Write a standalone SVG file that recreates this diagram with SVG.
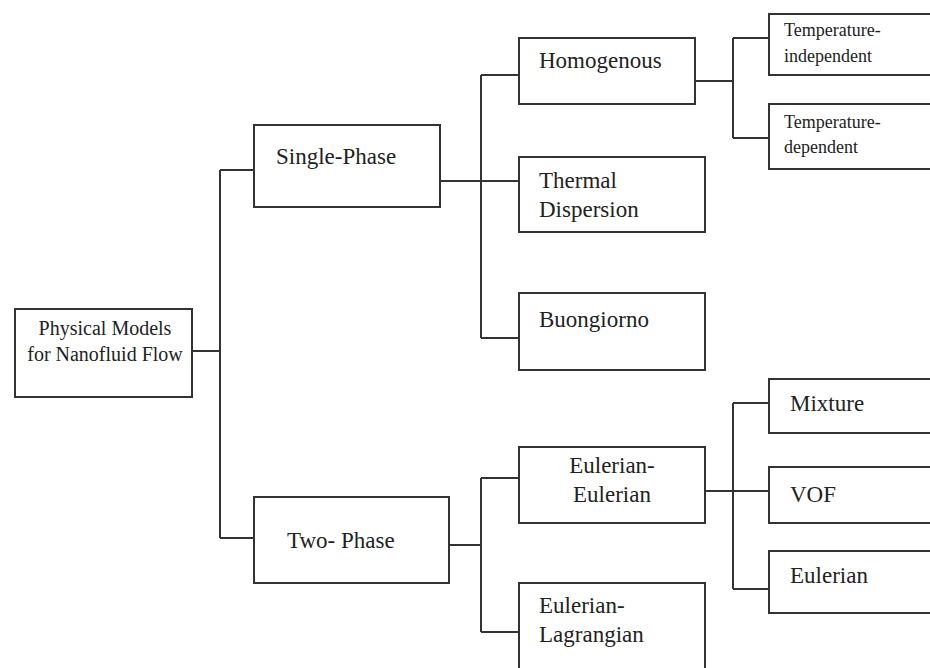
<svg xmlns="http://www.w3.org/2000/svg" width="930" height="668" viewBox="0 0 930 668" font-family="'Liberation Serif', 'DejaVu Serif', serif">
<style>
.box{fill:#fff;stroke:#333;stroke-width:2}
.ln{fill:none;stroke:#333;stroke-width:2}
text{font-family:'Liberation Serif','DejaVu Serif',serif;fill:#222}
.l{font-size:23px}
.s{font-size:18px}
.r{font-size:20px;text-anchor:middle}
.c{text-anchor:middle}
</style>
<rect width="930" height="668" fill="#fff"/>
<g id="connectors">
<path class="ln" d="M192,351 H220 M220,170 V538 M220,170 H254 M220,538 H254"/>
<path class="ln" d="M440,181 H519 M481,75 V338 M481,75 H519 M481,338 H519"/>
<path class="ln" d="M695,81 H733 M733,38 V138 M733,38 H769 M733,138 H769"/>
<path class="ln" d="M449,545 H481 M481,478 V632 M481,478 H519 M481,632 H519"/>
<path class="ln" d="M705,491 H769 M733,403 V589 M733,403 H769 M733,589 H769"/>
</g>
<g id="root">
<rect class="box" x="15" y="309" width="177" height="88"/>
<text class="r" x="105" y="335">Physical Models</text>
<text class="r" x="105" y="361">for Nanofluid Flow</text>
</g>
<g id="single-phase">
<rect class="box" x="254" y="125" width="186" height="82"/>
<text class="l" x="276" y="164">Single-Phase</text>
</g>
<g id="two-phase">
<rect class="box" x="254" y="497" width="195" height="86"/>
<text class="l" x="287" y="548">Two- Phase</text>
</g>
<g id="homogenous">
<rect class="box" x="519" y="38" width="176" height="66"/>
<text class="l" x="539" y="68">Homogenous</text>
</g>
<g id="thermal-dispersion">
<rect class="box" x="519" y="157" width="186" height="75"/>
<text class="l" x="539" y="188">Thermal</text>
<text class="l" x="539" y="217">Dispersion</text>
</g>
<g id="buongiorno">
<rect class="box" x="519" y="293" width="186" height="77"/>
<text class="l" x="539" y="327">Buongiorno</text>
</g>
<g id="temp-independent">
<rect class="box" x="769" y="14" width="170" height="61"/>
<text class="s" x="784" y="36">Temperature-</text>
<text class="s" x="784" y="62">independent</text>
</g>
<g id="temp-dependent">
<rect class="box" x="769" y="104" width="170" height="65"/>
<text class="s" x="784" y="128">Temperature-</text>
<text class="s" x="784" y="153">dependent</text>
</g>
<g id="eulerian-eulerian">
<rect class="box" x="519" y="447" width="186" height="76"/>
<text class="l c" x="612" y="473">Eulerian-</text>
<text class="l c" x="612" y="502">Eulerian</text>
</g>
<g id="eulerian-lagrangian">
<rect class="box" x="519" y="583" width="186" height="95"/>
<text class="l" x="539" y="613">Eulerian-</text>
<text class="l" x="539" y="642">Lagrangian</text>
</g>
<g id="mixture">
<rect class="box" x="769" y="379" width="170" height="54"/>
<text class="l" x="790" y="411">Mixture</text>
</g>
<g id="vof">
<rect class="box" x="769" y="467" width="170" height="56"/>
<text class="l" x="790" y="502">VOF</text>
</g>
<g id="eulerian">
<rect class="box" x="769" y="551" width="170" height="62"/>
<text class="l" x="790" y="583">Eulerian</text>
</g>
</svg>
